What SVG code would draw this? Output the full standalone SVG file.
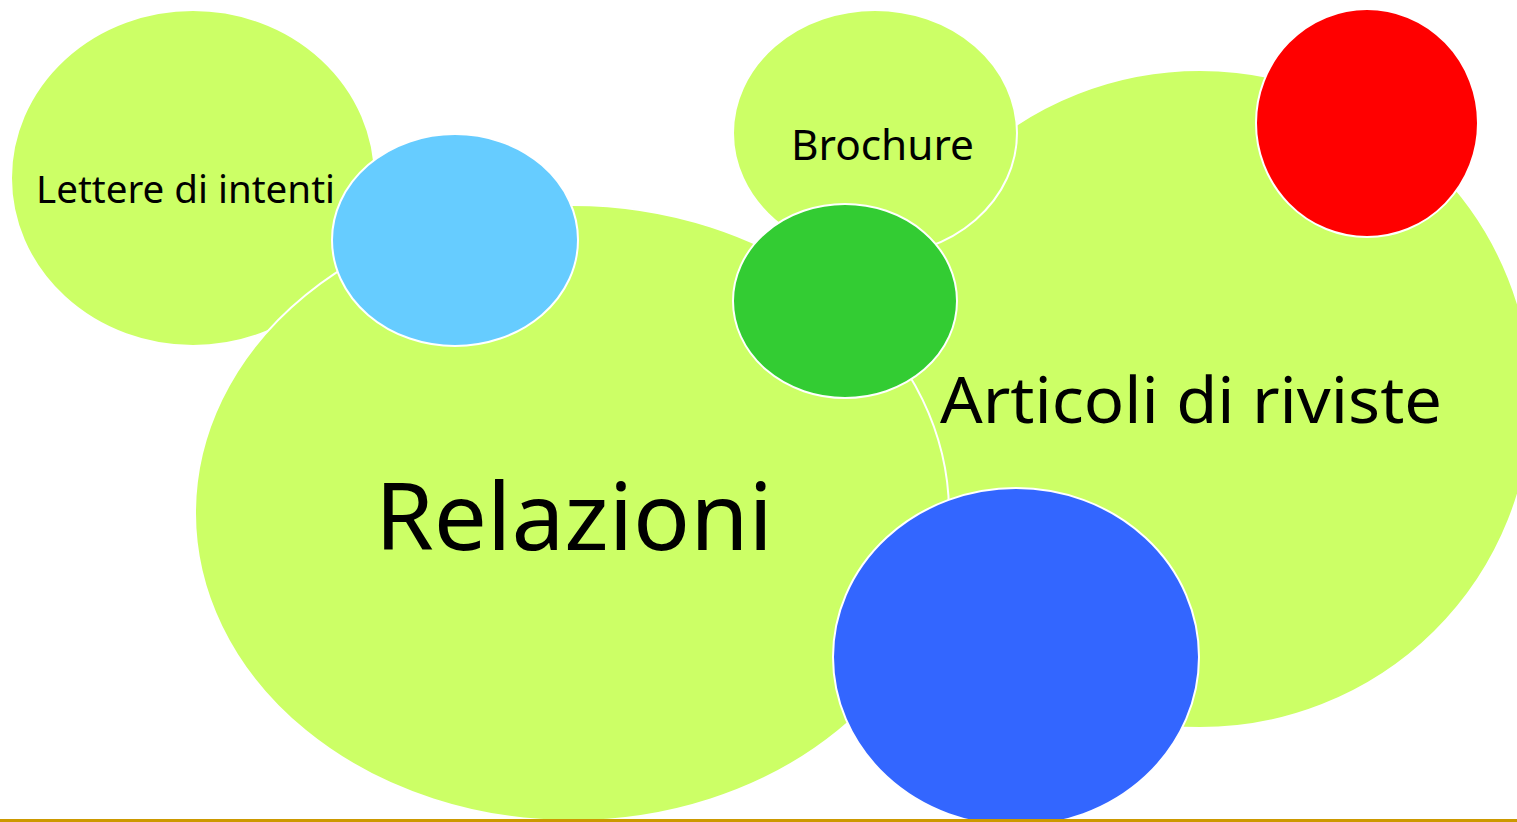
<svg xmlns="http://www.w3.org/2000/svg" width="1517" height="822" viewBox="0 0 1517 822">
<style>
.n{stroke:#FFFFFF;stroke-width:2}
.lime{fill:#CCFF66}
.t{font-family:"Noto Sans","Open Sans","Liberation Sans",sans-serif;fill:#000000}
</style>
<rect x="0" y="0" width="1517" height="822" fill="#FFFFFF"/>
<g id="lettere"><ellipse class="n lime" cx="193" cy="178" rx="182" ry="168"/><text class="t" x="36" y="203" font-size="38" textLength="299" lengthAdjust="spacingAndGlyphs">Lettere di intenti</text></g>
<g id="articoli"><ellipse class="n lime" cx="1200" cy="399" rx="332" ry="329"/></g>
<g id="brochure"><ellipse class="n lime" cx="875" cy="133" rx="142" ry="123"/><text class="t" x="791" y="160" font-size="41" textLength="183" lengthAdjust="spacingAndGlyphs">Brochure</text></g>
<g id="relazioni"><ellipse class="n lime" cx="572" cy="513" rx="377" ry="308"/><text class="t" x="375" y="550" font-size="94" textLength="398" lengthAdjust="spacingAndGlyphs">Relazioni</text></g>
<g id="articoli-label"><text class="t" x="940" y="423" font-size="64" textLength="502" lengthAdjust="spacingAndGlyphs">Articoli di riviste</text></g>
<g id="lightblue"><ellipse class="n" fill="#66CCFF" cx="455" cy="240" rx="123" ry="106"/></g>
<g id="green"><ellipse class="n" fill="#33CC33" cx="845" cy="301" rx="112" ry="97"/></g>
<g id="red"><ellipse class="n" fill="#FF0000" cx="1367" cy="123" rx="111" ry="114"/></g>
<g id="blue"><ellipse class="n" fill="#3366FF" cx="1016" cy="657" rx="183" ry="169"/></g>
<g id="connectors"></g>
<rect x="0" y="819" width="1517" height="3" fill="#CC9900"/>
</svg>
